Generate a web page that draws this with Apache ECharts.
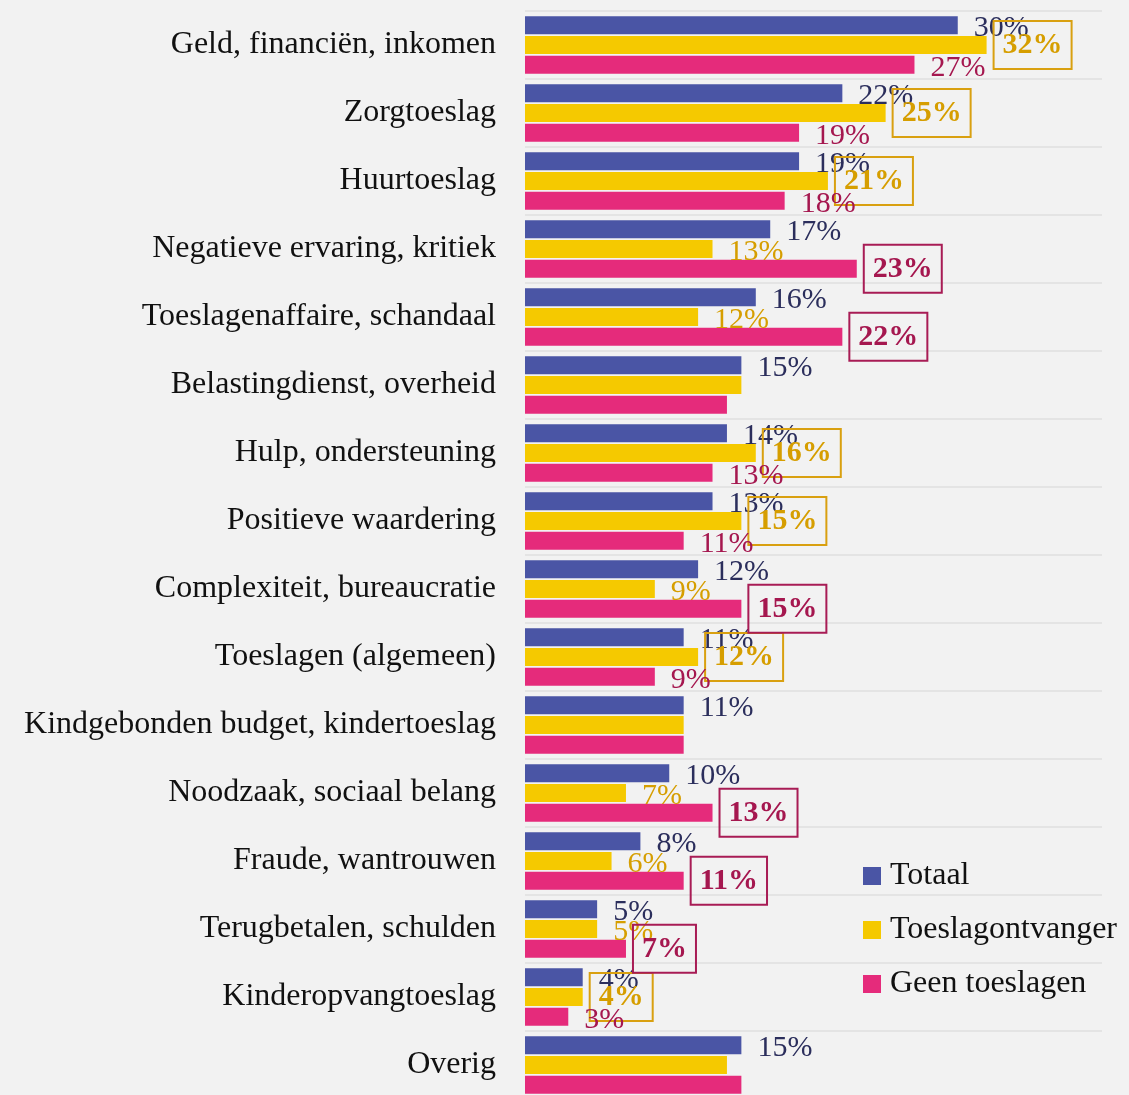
<!DOCTYPE html>
<html><head><meta charset="utf-8">
<script src="https://cdn.jsdelivr.net/npm/echarts/dist/echarts.min.js"></script>
<style>html,body{margin:0;padding:0;background:#f2f2f2}#c{width:1129px;height:1095px}</style>
</head><body><div id="c"></div>
<script>
const categories = [
  'Geld, financiën, inkomen', 'Zorgtoeslag', 'Huurtoeslag', 'Negatieve ervaring, kritiek',
  'Toeslagenaffaire, schandaal', 'Belastingdienst, overheid', 'Hulp, ondersteuning',
  'Positieve waardering', 'Complexiteit, bureaucratie', 'Toeslagen (algemeen)',
  'Kindgebonden budget, kindertoeslag', 'Noodzaak, sociaal belang', 'Fraude, wantrouwen',
  'Terugbetalen, schulden', 'Kinderopvangtoeslag', 'Overig'
];
const seriesNames = ['Totaal', 'Toeslagontvanger', 'Geen toeslagen'];
const totaal           = [30, 22, 19, 17, 16, 15, 14, 13, 12, 11, 11, 10, 8, 5, 4, 15];
const toeslagontvanger = [32, 25, 21, 13, 12, 15, 16, 15, 9, 12, 11, 7, 6, 5, 4, 14];
const geenToeslagen    = [27, 19, 18, 23, 22, 14, 13, 11, 15, 9, 11, 13, 11, 7, 3, 15];
// label kind per category: 'h' = highlighted (boxed, bold), 'n' = normal, '' = no label
const totaalLabels  = ['n','n','n','n','n','n','n','n','n','n','n','n','n','n','n','n'];
const toeslagLabels = ['h','h','h','n','n','','h','h','n','h','','n','n','n','h',''];
const geenLabels    = ['n','n','n','h','h','','n','n','h','n','','h','h','h','n',''];

const FONT = 'Liberation Serif';
const barColors   = ['#4a55a5', '#f5c900', '#e52b7b'];
const labelColors = ['#2b2e5c', '#d69e00', '#a5174f'];
const boxColors   = ['#2b2e5c', '#d9a010', '#a81c55'];

function buildData(values, kinds, idx) {
  return values.map((v, i) => {
    const k = kinds[i];
    if (k === '') return { value: v, label: { show: false } };
    if (k === 'h') return {
      value: v,
      label: { show: true, fontWeight: 'bold', borderColor: boxColors[idx], borderWidth: 2,
               padding: [10, 9, 8, 9], distance: 7, offset: [0, 0] }
    };
    return { value: v };
  });
}

const allValues = [totaal, toeslagontvanger, geenToeslagen];
const allLabels = [totaalLabels, toeslagLabels, geenLabels];

const chart = echarts.init(document.getElementById('c'), null, { renderer: 'canvas' });
chart.setOption({
  backgroundColor: '#f2f2f2',
  animation: false,
  grid: { left: 525, right: 27, top: 11, height: 1088, containLabel: false, outerBoundsMode: 'none' },
  legend: {
    data: seriesNames, orient: 'vertical', left: 858, top: 855,
    itemWidth: 18, itemHeight: 18, itemGap: 22, icon: 'rect',
    textStyle: { fontFamily: FONT, fontSize: 32, color: '#111', lineHeight: 32, padding: [0, 0, 0, 4] }
  },
  xAxis: { type: 'value', min: 0, max: 40, show: false, splitLine: { show: false } },
  yAxis: {
    type: 'category', data: categories, inverse: true,
    axisLine: { show: false }, axisTick: { show: false },
    axisLabel: { interval: 0, margin: 29, fontFamily: FONT, fontSize: 32, color: '#111' },
    splitLine: { show: true, interval: 0, lineStyle: { color: '#e4e4e4', width: 2 } }
  },
  series: allValues.map((vals, idx) => ({
    name: seriesNames[idx], type: 'bar', data: buildData(vals, allLabels[idx], idx),
    barWidth: 18, barGap: '10%',
    itemStyle: { color: barColors[idx] },
    label: { show: true, position: 'right', distance: 16, formatter: '{c}%',
             offset: [0, 3],
             fontFamily: FONT, fontSize: 30, color: labelColors[idx] }
  }))
});
</script></body></html>
